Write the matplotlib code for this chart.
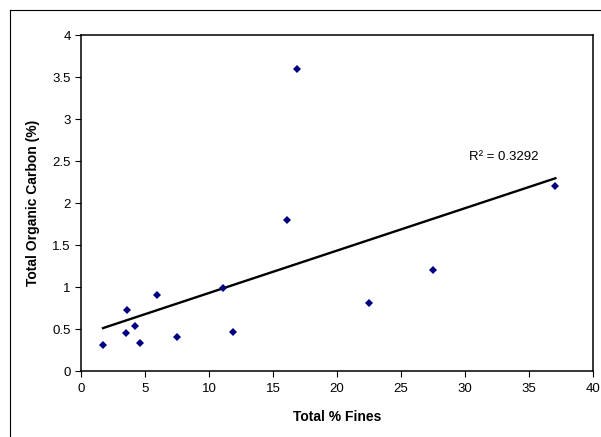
import numpy as np
import matplotlib
matplotlib.use("Agg")
import matplotlib.pyplot as plt
from matplotlib.lines import Line2D

plt.rcParams['font.family'] = ['Liberation Sans', 'DejaVu Sans']

# Sample measurements: fines content vs. total organic carbon
fines_pct = [1.72, 3.57, 3.52, 4.24, 4.61, 5.91, 7.47, 11.1, 11.9,
             16.85, 16.07, 27.5, 37.06, 22.5]
toc_pct = [0.31, 0.73, 0.45, 0.54, 0.33, 0.91, 0.40, 0.99, 0.46,
           3.59, 1.80, 1.20, 2.20, 0.81]
r2_label = "R\u00b2 = 0.3292"
x_ticks = [0, 5, 10, 15, 20, 25, 30, 35, 40]
y_ticks = [0, 0.5, 1, 1.5, 2, 2.5, 3, 3.5, 4]

W, H = 601, 437
fig = plt.figure(figsize=(W / 100, H / 100), dpi=100)
fig.patch.set_facecolor('white')

# outer chart frame (left and top edges)
fy = 1 - 10 / H
fx = 9.5 / W
fig.add_artist(Line2D([fx, fx], [0, fy], transform=fig.transFigure,
                      color='black', lw=0.8))
fig.add_artist(Line2D([fx, 1], [fy, fy], transform=fig.transFigure,
                      color='black', lw=0.8))

ax = fig.add_axes([81 / W, (H - 371) / H, 512 / W, 336 / H])

x = np.array(fines_pct)
y = np.array(toc_pct)
ax.plot(x, y, linestyle='none', marker='D', markersize=4.2,
        color='#000080', markeredgewidth=0, zorder=3)

# linear trendline over the data range
slope, intercept = np.polyfit(x, y, 1)
xl = np.array([x.min(), x.max()])
ax.plot(xl, slope * xl + intercept, color='black', lw=1.7, zorder=2)

ax.text(30.3, 2.55, r2_label, fontsize=9.5, ha='left', va='center')

ax.set_xlim(0, 40)
ax.set_ylim(0, 4)
ax.set_xticks(x_ticks)
ax.set_yticks(y_ticks)
ax.set_xticklabels([f"{v:g}" for v in x_ticks])
ax.set_yticklabels([f"{v:g}" for v in y_ticks])
ax.tick_params(axis='both', direction='out', length=4, width=0.8,
               labelsize=9.5, colors='black')
ax.tick_params(axis='x', pad=5)
ax.tick_params(axis='y', pad=3.5)
ax.tick_params(top=False, right=False)
for s in ax.spines.values():
    s.set_linewidth(1.1)
    s.set_color('black')

ax.set_xlabel("Total % Fines", fontsize=10, fontweight='bold', va='center')
ax.xaxis.set_label_coords(0.5, (371 - 417) / 336)
ax.set_ylabel("Total Organic Carbon (%)", fontsize=10, fontweight='bold',
              va='center')
ax.yaxis.set_label_coords((33.3 - 81) / 512, 0.5)

fig.savefig("out.png", dpi=100, facecolor='white')
